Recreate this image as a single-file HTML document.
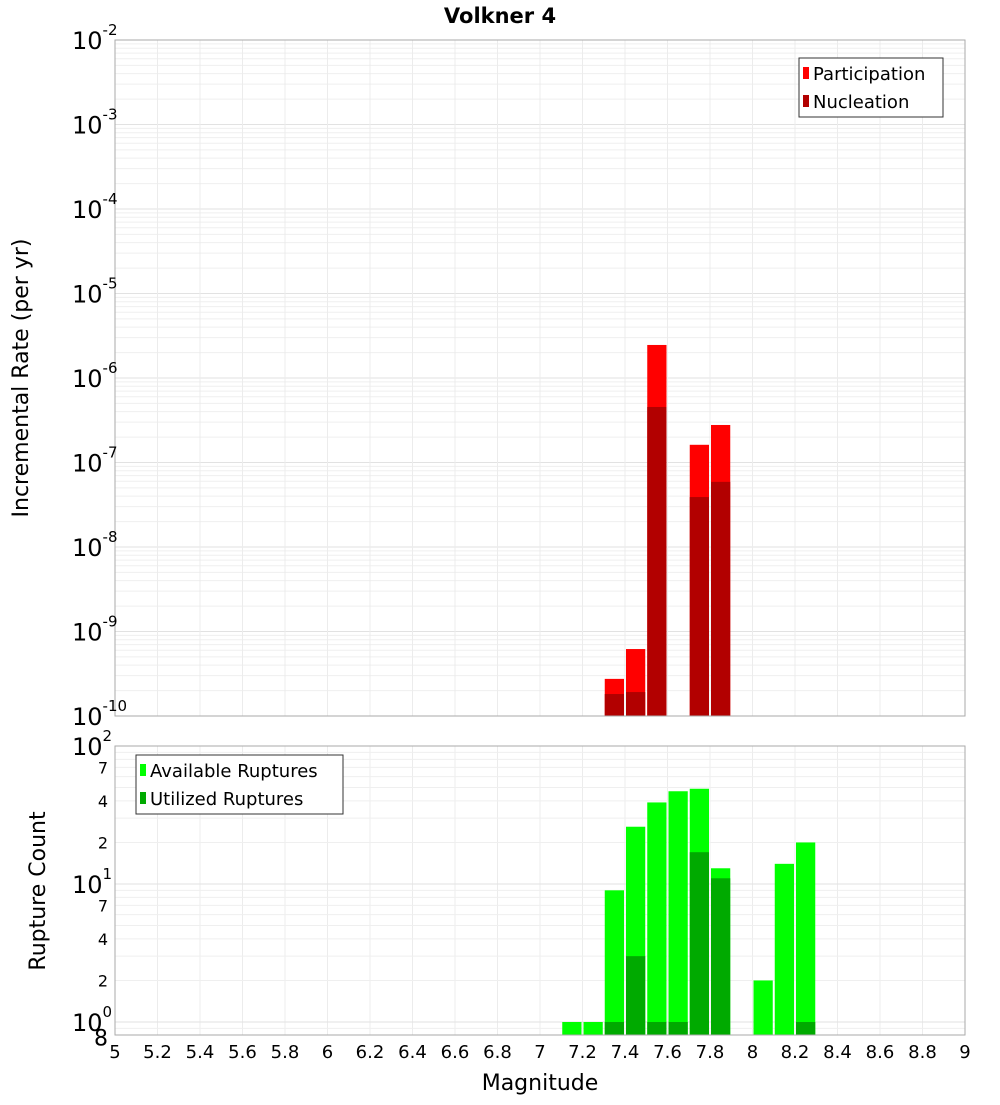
<!DOCTYPE html>
<html><head><meta charset="utf-8">
<style>
body{margin:0;background:#fff;}
svg text{font-family:"DejaVu Sans","Liberation Sans",sans-serif;}
</style></head>
<body>
<svg id="chart" width="1000" height="1100" xmlns="http://www.w3.org/2000/svg">
<text x="500" y="23" text-anchor="middle" font-size="21" font-weight="bold">Volkner 4</text>
<g id="topPlot"></g>
<g id="botPlot"></g>
</svg>
<script>
const mags = [7.3, 7.4, 7.5, 7.7, 7.8];
const participation = [2.75e-10, 6.2e-10, 2.46e-6, 1.62e-7, 2.78e-7];
const nucleation = [1.82e-10, 1.92e-10, 4.54e-7, 3.9e-8, 5.9e-8];
const countMags = [7.1, 7.2, 7.3, 7.4, 7.5, 7.6, 7.7, 7.8, 8.0, 8.1, 8.2];
const available = [1, 1, 9, 26, 39, 47, 49, 13, 2, 14, 20];
const utilized = [0, 0, 1, 3, 1, 1, 17, 11, 0, 0, 1];
const xTicks = [5,5.2,5.4,5.6,5.8,6,6.2,6.4,6.6,6.8,7,7.2,7.4,7.6,7.8,8,8.2,8.4,8.6,8.8,9];

const NS="http://www.w3.org/2000/svg";
const L=115,R=965;
const xs=m=>L+(m-5)/4*(R-L);
const T1=40,B1=716; const yTop=v=>T1+(-2-Math.log10(v))/8*(B1-T1);
const T2=746,B2=1035; const dec=138; const yBot=v=>1022-Math.log10(v)*dec;
function el(p,tag,a,txt){const e=document.createElementNS(NS,tag);for(const k in a)e.setAttribute(k,a[k]);if(txt!==undefined)e.textContent=txt;p.appendChild(e);return e;}
const gTop=document.getElementById('topPlot'),gBot=document.getElementById('botPlot');

for(let d=-10;d<-2;d++)for(let k=1;k<10;k++){const y=yTop(k*Math.pow(10,d));
 const g=el(gTop,'line',{x1:L,x2:R,y1:y,y2:y,stroke:k==1?'#e2e2e2':'#efefef','stroke-width':1});
 
 }
for(const t of xTicks){const g=el(gTop,'line',{x1:xs(t),x2:xs(t),y1:T1,y2:B1,stroke:'#ececec'});
 
 
 const g2=el(gBot,'line',{x1:xs(t),x2:xs(t),y1:T2,y2:B2,stroke:'#ececec'});
 
 }
mags.forEach((m,i)=>{
 const b=el(gTop,'rect',{x:xs(m)+1,width:xs(m+0.1)-xs(m)-2,y:yTop(participation[i]),height:B1-yTop(participation[i]),fill:'#ff0000'});
 
 
 const n=el(gTop,'rect',{x:xs(m)+1,width:xs(m+0.1)-xs(m)-2,y:yTop(nucleation[i]),height:B1-yTop(nucleation[i]),fill:'#b20000'});
 
 
});
el(gTop,'rect',{x:L,y:T1,width:R-L,height:B1-T1,fill:'none',stroke:'#aaa',});
for(let d=-2;d>=-10;d--){const y=yTop(Math.pow(10,d));
 const t=el(gTop,'text',{x:72,y:y+9,'font-size':24});
 
 
 t.innerHTML='10<tspan dy="-14" font-size="15">'+d+'</tspan>';}
el(gTop,'text',{x:28,y:378,'font-size':22,'text-anchor':'middle',transform:'rotate(-90 28 378)',},'Incremental Rate (per yr)');
const lg=el(gTop,'g',{});
el(lg,'rect',{x:799,y:58,width:144,height:59,fill:'#fff',stroke:'#333'});
el(lg,'rect',{x:803,y:67,width:6,height:12,fill:'#ff0000'});
el(lg,'text',{x:813,y:80,'font-size':18},'Participation');
el(lg,'rect',{x:803,y:95,width:6,height:12,fill:'#b20000'});
el(lg,'text',{x:813,y:108,'font-size':18},'Nucleation');

for(let d=-1;d<2;d++)for(let k=1;k<10;k++){const v=k*Math.pow(10,d);const y=yBot(v);if(y>B2||y<T2)continue;
 const g=el(gBot,'line',{x1:L,x2:R,y1:y,y2:y,stroke:k==1?'#e2e2e2':'#efefef'});
 
 }
countMags.forEach((m,i)=>{
 const b=el(gBot,'rect',{x:xs(m)+1,width:xs(m+0.1)-xs(m)-2,y:yBot(available[i]),height:B2-yBot(available[i]),fill:'#00ff00'});
 
 
 if(utilized[i]>0){const n=el(gBot,'rect',{x:xs(m)+1,width:xs(m+0.1)-xs(m)-2,y:yBot(utilized[i]),height:B2-yBot(utilized[i]),fill:'#00aa00'});
 
 }
});
el(gBot,'rect',{x:L,y:T2,width:R-L,height:B2-T2,fill:'none',stroke:'#aaa',});
[0,1,2].forEach(d=>{const y=yBot(Math.pow(10,d));
 const t=el(gBot,'text',{x:72,y:y+9,'font-size':24});
 
 
 t.innerHTML='10<tspan dy="-14" font-size="15">'+d+'</tspan>';});
[[2,1],[4,1],[7,1],[2,10],[4,10],[7,10],[8,0.1]].forEach(([k,s])=>{const y=yBot(k*s);
 const t=el(gBot,'text',{x:108,y:y+(k==8?10:6),'font-size':k==8?22:16,'text-anchor':'end'},String(k));
 
 });
el(gBot,'text',{x:45,y:891,'font-size':22,'text-anchor':'middle',transform:'rotate(-90 45 891)',},'Rupture Count');
const lg2=el(gBot,'g',{});
el(lg2,'rect',{x:136,y:755,width:207,height:59,fill:'#fff',stroke:'#333'});
el(lg2,'rect',{x:140,y:764,width:6,height:12,fill:'#00ff00'});
el(lg2,'text',{x:150,y:777,'font-size':18},'Available Ruptures');
el(lg2,'rect',{x:140,y:792,width:6,height:12,fill:'#00aa00'});
el(lg2,'text',{x:150,y:805,'font-size':18},'Utilized Ruptures');
for(const t of xTicks){const tx=el(gBot,'text',{x:xs(t),y:1058,'font-size':18,'text-anchor':'middle'},String(t));
 
 }
el(gBot,'text',{x:540,y:1090,'font-size':22,'text-anchor':'middle',},'Magnitude');
</script>
</body></html>
